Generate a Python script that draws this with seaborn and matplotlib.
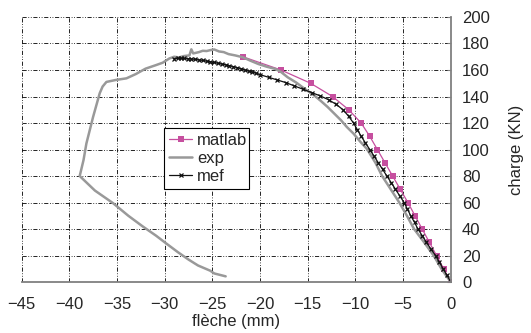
import matplotlib
matplotlib.use("Agg")
import matplotlib.pyplot as plt
import seaborn as sns
import pandas as pd

# Courbe matlab (flèche mm, charge kN)
matlab_fleche = [0, -0.75, -1.5, -2.25, -3.0, -3.75, -4.5, -5.3, -6.1, -6.9,
                 -7.7, -8.5, -9.4, -10.7, -12.4, -14.7, -17.8, -21.8]
matlab_charge = [0, 10, 20, 30, 40, 50, 60, 70, 80, 90,
                 100, 110, 120, 130, 140, 150, 160, 170]

# Courbe expérimentale
exp_fleche = [0, -0.9, -1.8, -2.8, -3.85, -4.6, -5.4, -6.3, -7.2, -7.9,
              -8.8, -9.5, -10.2, -10.9, -11.5, -12.2, -12.9, -13.6, -14.3, -15.3,
              -16.2, -17.1, -17.8, -18.4, -19.3, -20.2, -21.0, -21.8, -22.6, -23.3,
              -23.8, -24.3, -24.8, -25.2, -25.6, -26.0, -26.4, -26.7, -27.0, -27.2,
              -27.4, -28.0, -28.5, -29.0, -29.5, -30.2, -30.9, -32.0, -33.0, -34.0,
              -35.1, -36.1, -36.5, -36.8, -37.5, -38.2, -38.5, -38.9, -37.3, -35.4,
              -33.8, -32.3, -30.9, -29.9, -28.6, -27.5, -26.5, -25.2, -24.8, -23.6]
exp_charge = [0, 9, 20, 30, 40, 50, 60, 70, 80, 90,
              100.5, 106, 112, 117, 122, 127, 132, 136.5, 140.7, 145.7,
              150.5, 154.5, 158.5, 160.8, 162.5, 164.6, 167, 169.6, 171, 172,
              173.5, 174, 175.5, 175, 174.3, 174.5, 173.5, 173, 172.5, 175.6,
              171, 170.5, 169.5, 170, 168.7, 165.5, 163.7, 161, 157, 153.7,
              152.5, 151, 147.5, 142.5, 124.5, 104.5, 92, 80, 69, 59.5,
              50, 42, 35, 29.5, 22.5, 17, 12.5, 8.5, 6.5, 4.3]

# Courbe éléments finis
mef_fleche = [0, -0.4, -0.8, -1.2, -1.6, -2.1, -2.55, -3.0, -3.45, -3.8,
              -4.2, -4.55, -4.9, -5.35, -5.8, -6.25, -6.7, -7.15, -7.6, -8.05,
              -8.5, -8.95, -9.4, -9.8, -10.2, -10.7, -11.3, -12.0, -12.8, -13.7,
              -14.6, -15.5, -16.4, -17.3, -18.2, -19.1, -20.0, -20.4, -20.8, -21.2,
              -21.6, -22.0, -22.4, -22.8, -23.2, -23.6, -24.0, -24.4, -24.8, -25.2,
              -25.6, -26.0, -26.4, -26.8, -27.2, -27.6, -28.0, -28.3, -28.6, -29.0]
mef_charge = [0, 5, 10, 15, 20, 25, 30, 35, 40, 45,
              50, 55, 60, 65, 70, 75, 80, 85, 90, 95,
              100, 105, 110, 115, 120, 125, 130, 134, 137.5, 140.5,
              143, 145.5, 148, 150.5, 152.5, 154.5, 156.5, 157.5, 158.5, 159.2,
              160, 161, 161.8, 162.5, 163.2, 163.9, 164.5, 165.1, 165.7, 166.2,
              166.7, 167.2, 167.6, 168.0, 168.3, 168.5, 168.7, 168.8, 168.8, 168.5]

df_matlab = pd.DataFrame({"fleche": matlab_fleche, "charge": matlab_charge})
df_exp = pd.DataFrame({"fleche": exp_fleche, "charge": exp_charge})
df_mef = pd.DataFrame({"fleche": mef_fleche, "charge": mef_charge})

sns.set_style("white")
plt.rcParams["font.family"] = ["Liberation Sans", "DejaVu Sans"]

fig = plt.figure(figsize=(5.31, 3.33), dpi=100)
ax = fig.add_axes([0.0405, 0.153, 0.8085, 0.796])

sns.lineplot(data=df_matlab, x="fleche", y="charge", sort=False, estimator=None,
             color="#c64f9f", linewidth=0.9, marker="s", markersize=4.5,
             markeredgewidth=0, markeredgecolor="#c64f9f",
             label="matlab", ax=ax)
sns.lineplot(data=df_exp, x="fleche", y="charge", sort=False, estimator=None,
             color="#999999", linewidth=1.8, label="exp", ax=ax)
sns.lineplot(data=df_mef, x="fleche", y="charge", sort=False, estimator=None,
             color="#111111", linewidth=0.9, marker="x", markersize=3,
             markeredgewidth=0.9, markeredgecolor="#111111",
             label="mef", ax=ax)

ax.set_xlim(-45, 0)
ax.set_ylim(0, 200)
ax.set_xticks(range(-45, 1, 5))
ax.set_yticks(range(0, 201, 20))

# Quadrillage en tiret-point-point
ax.grid(True, color="black", linewidth=0.6, linestyle=(0, (5, 2, 1, 2, 1, 2)))
ax.set_axisbelow(True)

for side in ["top", "left"]:
    ax.spines[side].set_visible(False)
for side in ["bottom", "right"]:
    ax.spines[side].set_visible(True)
    ax.spines[side].set_color("#808080")
    ax.spines[side].set_linewidth(1.3)

ax.yaxis.tick_right()
ax.yaxis.set_label_position("right")
ax.tick_params(axis="x", direction="out", length=3, color="#808080", labelsize=12, pad=8)
ax.tick_params(axis="y", direction="in", length=3, color="#808080", labelsize=12, pad=8)

ax.set_xlabel("flèche (mm)", fontsize=12, labelpad=1)
ax.set_ylabel("charge (KN)", fontsize=12, labelpad=14)

leg = ax.legend(loc="lower left", bbox_to_anchor=(0.332, 0.35, 0.198, 0.251),
                mode="expand", fontsize=12, frameon=True, fancybox=False,
                handlelength=1.4, handletextpad=0.3, borderpad=0.3,
                labelspacing=0.2, borderaxespad=0)
leg.get_frame().set_edgecolor("black")
leg.get_frame().set_linewidth(0.8)
leg.get_frame().set_alpha(1)

fig.savefig("out.png", dpi=100)
